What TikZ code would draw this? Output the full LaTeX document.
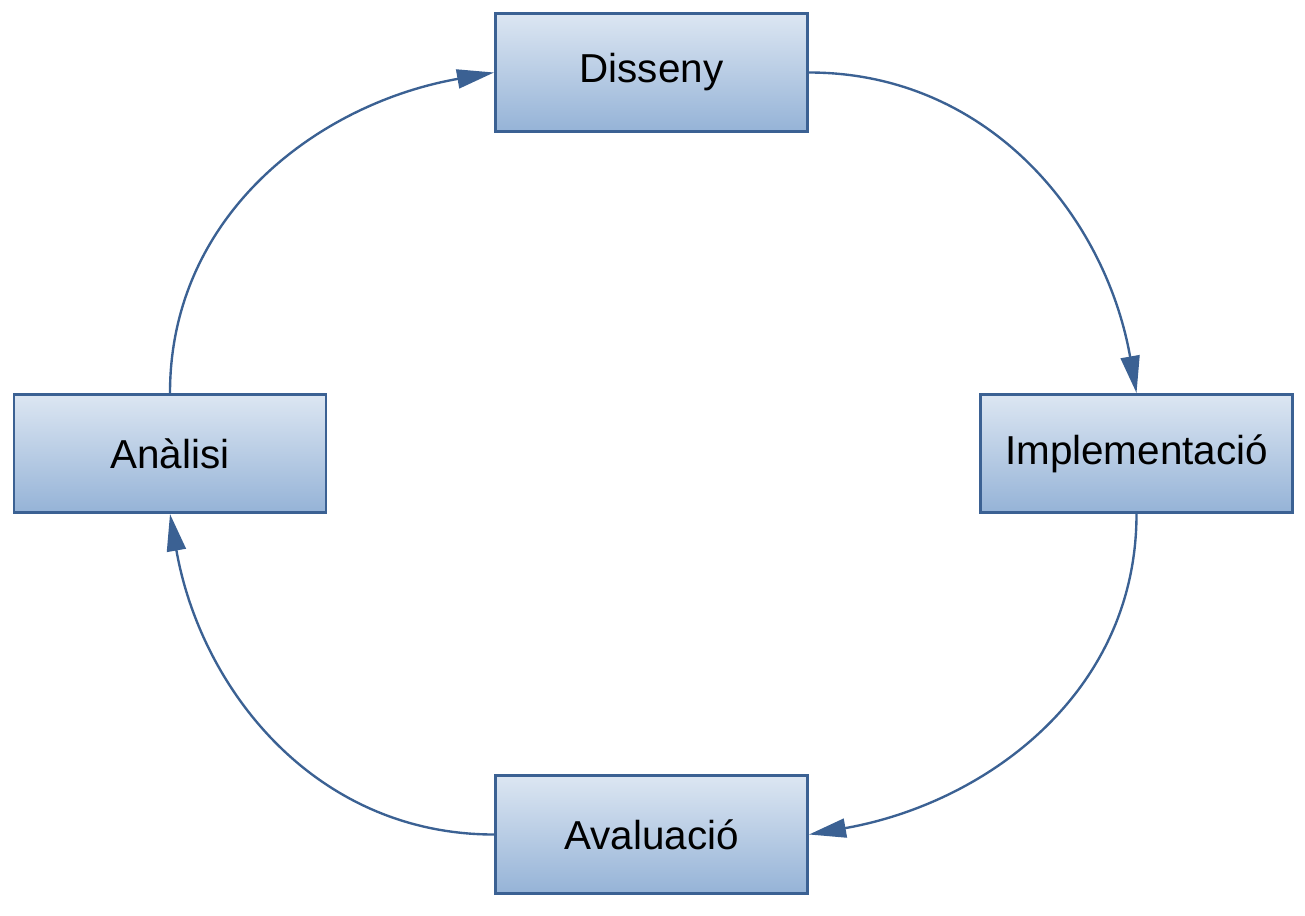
\documentclass[tikz,border=0pt]{standalone}
\usepackage{fontspec}
\setmainfont{Liberation Sans}
\usepackage{tikz}
\usetikzlibrary{arrows.meta}
\definecolor{boxtop}{HTML}{DCE6F2}
\definecolor{boxbot}{HTML}{95B3D7}
\definecolor{edge}{HTML}{3B6193}
\tikzset{phase/.style={draw=edge, line width=1.7pt, top color=boxtop, bottom color=boxbot,
    minimum width=6.24cm, minimum height=2.36cm, inner sep=0pt,
    font=\fontsize{23}{27}\selectfont}}
\tikzset{flow/.style={draw=edge, line width=1.35pt, -{Triangle[length=0.74cm, width=0.38cm]}}}

\begin{document}
\begin{tikzpicture}

	\useasboundingbox (0,0) rectangle (26.1,-18.3);

	\node[phase] (disseny) at (13.03,-1.45) {Disseny};
	\node[phase] (analisi) at (3.4,-9.07) {Anàlisi};
	\node[phase] (implem) at (22.73,-9.07) {Implementació};
	\node[phase] (avalua) at (13.03,-16.69) {Avaluació};

	% cicle
	\draw[flow] (analisi.north) to[out=90, in=190] (disseny.west);
	\draw[flow] (disseny.east) to[out=0, in=100] (implem.north);
	\draw[flow] (implem.south) to[out=-90, in=10] (avalua.east);
	\draw[flow] (avalua.west) to[out=180, in=-80] (analisi.south);

\end{tikzpicture}
\end{document}
